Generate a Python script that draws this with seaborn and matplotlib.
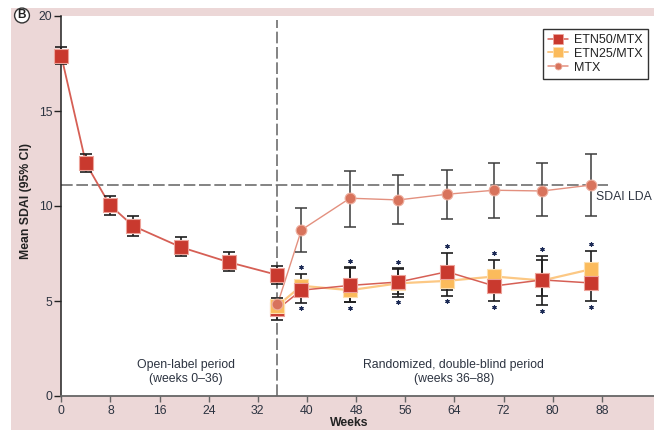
import matplotlib
matplotlib.use("Agg")
import matplotlib.pyplot as plt
from matplotlib.lines import Line2D
from matplotlib.patches import Rectangle
import numpy as np
import pandas as pd
import seaborn as sns

# ---- data -------------------------------------------------------------
# Open-label period: all patients on ETN50/MTX
ol_weeks = [0, 4, 7.9, 11.7, 19.5, 27.3, 35.2]
ol_mean = [17.9, 12.25, 10.05, 8.95, 7.83, 7.04, 6.37]
ol_lo = [17.5, 11.77, 9.53, 8.42, 7.38, 6.58, 5.88]
ol_hi = [18.38, 12.74, 10.54, 9.47, 8.35, 7.59, 6.86]

# Randomized, double-blind period
rd_weeks = [35.2, 39.1, 47.0, 54.9, 62.8, 70.5, 78.3, 86.2]
etn50_mean = [4.57, 5.57, 5.82, 6.00, 6.54, 5.79, 6.11, 5.95]
etn50_lo = [4.02, 4.91, 4.93, 5.23, 5.56, 5.00, 4.79, 5.00]
etn50_hi = [5.05, 6.10, 6.77, 6.72, 7.54, 6.55, 7.38, 6.90]
etn25_mean = [4.75, 5.80, 5.57, 5.93, 6.06, 6.29, 6.08, 6.67]
etn25_lo = [4.23, 5.30, 4.95, 5.35, 5.28, 5.50, 5.28, 5.58]
etn25_hi = [5.17, 6.44, 6.75, 6.70, 6.85, 7.17, 7.14, 7.65]
mtx_mean = [4.83, 8.74, 10.41, 10.32, 10.62, 10.83, 10.79, 11.10]
mtx_lo = [4.45, 7.59, 8.91, 9.04, 9.30, 9.37, 9.47, 9.47]
mtx_hi = [5.17, 9.89, 11.84, 11.62, 11.88, 12.26, 12.26, 12.75]

# visits with a significant difference vs MTX (index into rd_weeks)
sig_idx = [1, 2, 3, 4, 5, 6, 7]

lda_threshold = 11.1
period_split = 35.2
x_ticks = [0, 8, 16, 24, 32, 40, 48, 56, 64, 72, 80, 88]
y_ticks = [0, 5, 10, 15, 20]
series_labels = ["ETN50/MTX", "ETN25/MTX", "MTX"]

# ---- style ------------------------------------------------------------
sns.set_style("white")
plt.rcParams["font.family"] = ["Liberation Sans", "DejaVu Sans"]

C_RED = "#c9392e"
C_RED_EDGE = "#eda39a"
C_RED_LINE = "#d65f55"
C_ORANGE = "#fbbb5c"
C_ORANGE_EDGE = "#fde0b0"
C_ORANGE_LINE = "#fcc884"
C_MTX = "#d8735c"
C_MTX_EDGE = "#eeb0a0"
C_MTX_LINE = "#e3907f"
C_TXT = "#2c3340"
C_BAR = "#1e1e1e"

fig = plt.figure(figsize=(6.54, 4.30), dpi=100)
fig.patch.set_facecolor("white")
fig.patches.append(Rectangle((11 / 654, 0), 1, 422 / 430, transform=fig.transFigure,
                             facecolor="#ecd7d7", edgecolor="none", zorder=-10))

ax = fig.add_axes([61.3 / 654, 34 / 430, (654 - 61.3) / 654, 380 / 430])
ax.set_facecolor("white")

ol_df = pd.DataFrame({"week": ol_weeks, "sdai": ol_mean})
rd = {
    "ETN50/MTX": pd.DataFrame({"week": rd_weeks, "sdai": etn50_mean}),
    "ETN25/MTX": pd.DataFrame({"week": rd_weeks, "sdai": etn25_mean}),
    "MTX": pd.DataFrame({"week": rd_weeks, "sdai": mtx_mean}),
}

# connecting lines
sns.lineplot(data=ol_df, x="week", y="sdai", color=C_RED_LINE, lw=1.3,
             estimator=None, sort=False, legend=False, ax=ax, zorder=2)
sns.lineplot(data=rd["ETN25/MTX"], x="week", y="sdai", color=C_ORANGE_LINE, lw=1.6,
             estimator=None, sort=False, legend=False, ax=ax, zorder=2)
sns.lineplot(data=rd["ETN50/MTX"], x="week", y="sdai", color=C_RED_LINE, lw=1.1,
             estimator=None, sort=False, legend=False, ax=ax, zorder=2)
sns.lineplot(data=rd["MTX"], x="week", y="sdai", color=C_MTX_LINE, lw=1.0,
             estimator=None, sort=False, legend=False, ax=ax, zorder=2)

# 95% CI whiskers
def whiskers(x, m, lo, hi, color, lw):
    m = np.asarray(m)
    err = np.vstack([m - np.asarray(lo), np.asarray(hi) - m])
    eb = ax.errorbar(x, m, yerr=err, fmt="none", ecolor=color, elinewidth=lw,
                     capsize=4.2, capthick=lw, zorder=3)
    for art in eb.lines[1] + eb.lines[2]:
        art.set_clip_on(False)

whiskers(ol_weeks, ol_mean, ol_lo, ol_hi, C_BAR, 1.2)
whiskers(rd_weeks, etn25_mean, etn25_lo, etn25_hi, C_BAR, 1.2)
whiskers(rd_weeks, etn50_mean, etn50_lo, etn50_hi, C_BAR, 1.2)
whiskers(rd_weeks, mtx_mean, mtx_lo, mtx_hi, "#3c3c3c", 1.1)

# markers
sns.scatterplot(data=ol_df, x="week", y="sdai", marker="s", s=100, color=C_RED,
                edgecolor=C_RED_EDGE, linewidth=0.8, legend=False, ax=ax, zorder=4,
                clip_on=False)
# at the randomization visit the ETN50 group sits beneath ETN25
sns.scatterplot(data=rd["ETN50/MTX"].iloc[:1], x="week", y="sdai", marker="s", s=88,
                color=C_RED, edgecolor=C_RED_EDGE, linewidth=0.8,
                legend=False, ax=ax, zorder=4)
sns.scatterplot(data=rd["ETN25/MTX"], x="week", y="sdai", marker="s", s=88,
                color=C_ORANGE, edgecolor=C_ORANGE_EDGE, linewidth=0.8,
                legend=False, ax=ax, zorder=4.5)
sns.scatterplot(data=rd["ETN50/MTX"].iloc[1:], x="week", y="sdai", marker="s", s=88,
                color=C_RED, edgecolor=C_RED_EDGE, linewidth=0.8,
                legend=False, ax=ax, zorder=5)
sns.scatterplot(data=rd["MTX"], x="week", y="sdai", marker="o", s=60,
                color=C_MTX, edgecolor=C_MTX_EDGE, linewidth=0.8,
                legend=False, ax=ax, zorder=6)

# significance asterisks above / below the ETN whiskers
for i in sig_idx:
    top = max(etn50_hi[i], etn25_hi[i]) + 0.35
    bot = min(etn50_lo[i], etn25_lo[i]) - 0.30
    ax.scatter([rd_weeks[i]] * 2, [top, bot], marker=(6, 2, 0), s=6,
               color="#1c2a55", linewidths=0.9, zorder=6)

# reference lines
ax.plot([0, 89], [lda_threshold, lda_threshold], color="#6e6e6e", lw=1.2,
        linestyle=(0, (7, 2.2)), zorder=1)
ax.plot([period_split, period_split], [0, 19.8], color="#6e6e6e", lw=1.2,
        linestyle=(0, (7, 2.2)), zorder=1)
ax.text(87.1, 10.5, "SDAI LDA", fontsize=8.8, color=C_TXT, ha="left", va="center")

ax.text(20.3, 1.25, "Open-label period\n(weeks 0\u201336)", fontsize=8.8, color=C_TXT,
        ha="center", va="center", linespacing=1.25)
ax.text(63.9, 1.25, "Randomized, double-blind period\n(weeks 36\u201388)", fontsize=8.8,
        color=C_TXT, ha="center", va="center", linespacing=1.25)

# axes
ax.set_xlim(0, 96.5)
ax.set_ylim(0, 20)
ax.set_xticks(x_ticks)
ax.set_yticks(y_ticks)
ax.tick_params(axis="x", direction="out", length=4, width=1, color="#666666",
               labelsize=8.8, labelcolor=C_TXT, pad=2.5, bottom=True)
ax.tick_params(axis="y", direction="out", length=5, width=1, color="#222222",
               labelsize=8.8, labelcolor=C_TXT, pad=1.5, left=True)
for s in ["top", "right"]:
    ax.spines[s].set_visible(False)
ax.spines["left"].set_color("#222222")
ax.spines["left"].set_linewidth(1.1)
ax.spines["left"].set_bounds(0, 20)
ax.spines["bottom"].set_color("#666666")
ax.spines["bottom"].set_linewidth(1.3)

ax.set_xlabel("Weeks", fontsize=8.8, fontweight="bold", color="#222222")
ax.set_ylabel("Mean SDAI (95% CI)", fontsize=8.8, fontweight="bold", color="#222222")
ax.xaxis.set_label_coords(0.485, -0.056)
ax.yaxis.set_label_coords(-0.05, 0.512)

# legend
handles = [
    Line2D([], [], color=C_RED_LINE, lw=1.1, marker="s", markersize=7.5,
           markerfacecolor=C_RED, markeredgecolor=C_RED_EDGE, markeredgewidth=0.6),
    Line2D([], [], color=C_ORANGE_LINE, lw=1.4, marker="s", markersize=7.5,
           markerfacecolor=C_ORANGE, markeredgecolor=C_ORANGE_EDGE, markeredgewidth=0.6),
    Line2D([], [], color=C_MTX_LINE, lw=1.1, marker="o", markersize=5,
           markerfacecolor=C_MTX, markeredgecolor=C_MTX_EDGE, markeredgewidth=0.6),
]
leg = ax.legend(handles, series_labels, loc="upper right", bbox_to_anchor=(0.990, 0.966),
                frameon=True, fancybox=False, fontsize=9, handlelength=1.6,
                handletextpad=0.5, borderpad=0.4, labelspacing=0.15, borderaxespad=0)
leg.get_frame().set_edgecolor("black")
leg.get_frame().set_linewidth(1.0)
for t in leg.get_texts():
    t.set_color("#222222")

# panel tag
fig.text(22 / 654, 1 - 15.5 / 430, "B", fontsize=8.5, fontweight="bold", color="#222222",
         ha="center", va="center",
         bbox=dict(boxstyle="circle,pad=0.12", facecolor="white", edgecolor="#333333", lw=1))

fig.savefig("out.png", dpi=100)
